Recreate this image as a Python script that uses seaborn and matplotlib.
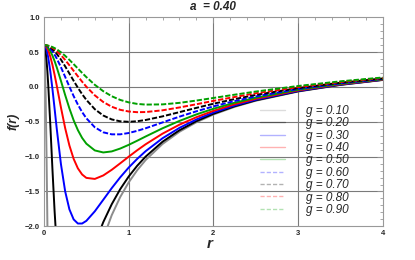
import matplotlib
matplotlib.use("Agg")
import matplotlib.pyplot as plt
from matplotlib.lines import Line2D
from matplotlib.ticker import MultipleLocator
import seaborn as sns
import pandas as pd

# radius values shared by every curve
r_vals = [0, 0.01, 0.02, 0.03, 0.04, 0.05, 0.075, 0.1, 0.125, 0.15, 0.2, 0.25, 0.3, 0.35,
          0.4, 0.45, 0.5, 0.6, 0.7, 0.8, 0.9, 1.0, 1.1, 1.2, 1.4, 1.6, 1.8, 2.0, 2.25,
          2.5, 3.0, 3.5, 4.0]

# f(r), one list per g
f_g010 = [0.6, 0.403, -0.154, -0.982, -1.96, -2.98, -5.16, -6.47, -7.02, -7.08, -6.56, -5.80,
          -5.09, -4.48, -3.97, -3.53, -3.17, -2.60, -2.17, -1.84, -1.58, -1.37, -1.196, -1.049,
          -0.818, -0.643, -0.506, -0.396, -0.286, -0.198, -0.066, 0.029, 0.100]
f_g020 = [0.6, 0.575, 0.501, 0.382, 0.223, 0.029, -0.554, -1.189, -1.78, -2.28, -2.94, -3.21,
          -3.24, -3.14, -2.98, -2.79, -2.60, -2.25, -1.94, -1.683, -1.467, -1.286, -1.132, -1.000,
          -0.786, -0.621, -0.491, -0.385, -0.278, -0.192, -0.062, 0.031, 0.102]
f_g030 = [0.6, 0.593, 0.571, 0.534, 0.485, 0.422, 0.220, -0.032, -0.310, -0.593, -1.107, -1.499,
          -1.757, -1.901, -1.960, -1.960, -1.922, -1.785, -1.619, -1.452, -1.297, -1.157, -1.033,
          -0.922, -0.736, -0.587, -0.466, -0.367, -0.266, -0.183, -0.057, 0.035, 0.104]
f_g040 = [0.6, 0.597, 0.588, 0.572, 0.551, 0.524, 0.433, 0.315, 0.175, 0.023, -0.294, -0.591,
          -0.840, -1.032, -1.168, -1.256, -1.305, -1.320, -1.270, -1.189, -1.096, -1.001, -0.909,
          -0.823, -0.670, -0.541, -0.434, -0.343, -0.248, -0.170, -0.049, 0.040, 0.107]
f_g050 = [0.6, 0.598, 0.594, 0.586, 0.575, 0.561, 0.513, 0.449, 0.372, 0.284, 0.088, -0.116,
          -0.308, -0.478, -0.619, -0.731, -0.814, -0.911, -0.940, -0.925, -0.884, -0.831, -0.772,
          -0.711, -0.593, -0.487, -0.394, -0.313, -0.227, -0.154, -0.040, 0.046, 0.111]
f_g060 = [0.6, 0.599, 0.596, 0.592, 0.585, 0.577, 0.549, 0.511, 0.464, 0.410, 0.284, 0.145,
          0.004, -0.131, -0.253, -0.360, -0.449, -0.579, -0.651, -0.680, -0.680, -0.661, -0.630,
          -0.593, -0.509, -0.426, -0.349, -0.279, -0.202, -0.136, -0.029, 0.053, 0.116]
f_g070 = [0.6, 0.599, 0.598, 0.595, 0.591, 0.586, 0.568, 0.543, 0.513, 0.477, 0.393, 0.296,
          0.193, 0.089, -0.011, -0.103, -0.185, -0.319, -0.410, -0.466, -0.493, -0.500, -0.492,
          -0.474, -0.422, -0.361, -0.300, -0.241, -0.174, -0.114, -0.016, 0.061, 0.122]
f_g080 = [0.6, 0.600, 0.598, 0.596, 0.594, 0.590, 0.578, 0.562, 0.541, 0.517, 0.457, 0.388,
          0.311, 0.232, 0.153, 0.076, 0.004, -0.120, -0.216, -0.284, -0.328, -0.352, -0.362,
          -0.360, -0.335, -0.294, -0.248, -0.200, -0.144, -0.091, -0.001, 0.071, 0.129]
f_g090 = [0.6, 0.600, 0.599, 0.598, 0.596, 0.593, 0.585, 0.573, 0.558, 0.541, 0.498, 0.447,
          0.389, 0.328, 0.265, 0.202, 0.142, 0.031, -0.061, -0.133, -0.186, -0.221, -0.243,
          -0.253, -0.250, -0.228, -0.195, -0.158, -0.111, -0.066, 0.014, 0.081, 0.136]

g_labels = ["g = 0.10", "g = 0.20", "g = 0.30", "g = 0.40", "g = 0.50",
            "g = 0.60", "g = 0.70", "g = 0.80", "g = 0.90"]
curves = [f_g010, f_g020, f_g030, f_g040, f_g050, f_g060, f_g070, f_g080, f_g090]

# styles
colors = ["#8c8c8c", "#000000", "#0000ff", "#ff0000", "#00a000",
          "#0000ff", "#000000", "#ff0000", "#00a000"]
dashed = [False] * 5 + [True] * 4

df = pd.concat([pd.DataFrame({"r": r_vals, "f": f, "g": lab})
                for f, lab in zip(curves, g_labels)], ignore_index=True)

sns.set_style("white")
plt.rcParams['font.family'] = ['Liberation Sans', 'DejaVu Sans']

fig = plt.figure(figsize=(4.15, 2.6), dpi=100)
ax = fig.add_axes([44 / 415, 1 - 226.3 / 260, 338.7 / 415, 209 / 260])

palette = dict(zip(g_labels, colors))
dash_map = {lab: ((2.7, 1.0) if d else "") for lab, d in zip(g_labels, dashed)}
sns.lineplot(data=df, x="r", y="f", hue="g", style="g", palette=palette,
             dashes=dash_map, sort=False, estimator=None, lw=1.4, legend=False, ax=ax)

ax.set_xlim(0, 4)
ax.set_ylim(-2, 1)

# grid lines like the original frame
for xv in [1, 2, 3]:
    ax.axvline(xv, color="#7a7a7a", lw=0.8, zorder=0)
for yv in [0.5, 0, -0.5, -1.0, -1.5]:
    ax.axhline(yv, color="#7a7a7a", lw=0.8, zorder=0)

ax.xaxis.set_major_locator(MultipleLocator(1))
ax.xaxis.set_minor_locator(MultipleLocator(0.2))
ax.yaxis.set_major_locator(MultipleLocator(0.5))
ax.yaxis.set_minor_locator(MultipleLocator(0.1))
ax.tick_params(which="both", direction="in", top=True, right=True, color="#999999",
               width=0.6, labelsize=5.5)
ax.tick_params(which="major", length=4, pad=3)
ax.tick_params(which="minor", length=2)
for lab in ax.get_xticklabels() + ax.get_yticklabels():
    lab.set_fontweight("bold")
ax.yaxis.set_major_formatter(matplotlib.ticker.FuncFormatter(
    lambda v, p: ("%.1f" % v).replace("-", "\u2212")))
ax.xaxis.set_major_formatter(matplotlib.ticker.FuncFormatter(lambda v, p: "%d" % v))
for s in ax.spines.values():
    s.set_color("#999999")
    s.set_linewidth(0.8)

ax.set_title("a  = 0.40", fontsize=8.5, fontweight="bold", fontstyle="italic", pad=5)
ax.set_xlabel("r", fontsize=11, fontweight="bold", fontstyle="italic")
ax.set_ylabel("f(r)", fontsize=9, fontweight="bold", fontstyle="italic")
ax.xaxis.set_label_coords(0.489, -0.05)
ax.yaxis.set_label_coords(-0.072, 0.5)

handles = [Line2D([], [], color=c, lw=1.0, alpha=0.3,
                  linestyle=(0, (3, 1.5)) if d else "-")
           for c, d in zip(colors, dashed)]
ax.legend(handles, g_labels, loc="upper left", bbox_to_anchor=(0.637, 0.58),
          frameon=False, borderpad=0, borderaxespad=0, handlelength=2.1,
          handletextpad=1.8, labelspacing=0.03,
          prop={"family": ["Liberation Sans", "DejaVu Sans"], "style": "italic", "size": 8.5})

plt.savefig("out.png", dpi=100)
